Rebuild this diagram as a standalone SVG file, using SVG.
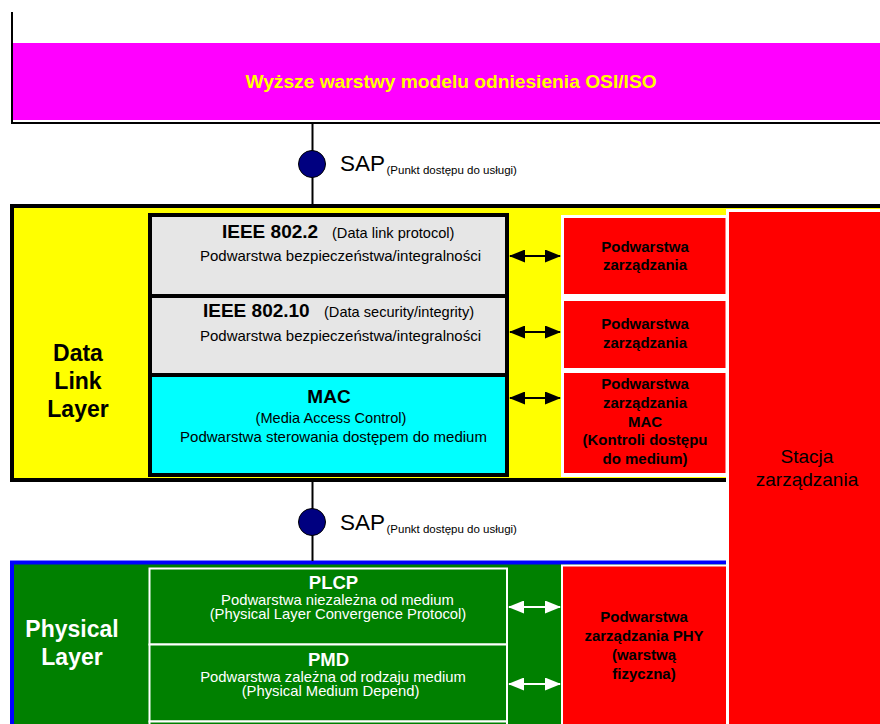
<svg xmlns="http://www.w3.org/2000/svg" width="880" height="724" viewBox="0 0 880 724">
  <style>
    text { font-family: "Liberation Sans", Arial, sans-serif; }
    .b { font-weight: bold; }
    .mid { text-anchor: middle; }
    .sap-big { font-size: 22.5px; fill: #000; }
    .sap-small { font-size: 11.5px; fill: #000; }
    .head { font-size: 19px; font-weight: bold; }
    .head-s { font-size: 18.5px; font-weight: bold; }
    .sub { font-size: 15px; }
    .sub-s { font-size: 14.8px; }
    .par { font-size: 14.6px; }
    .layer { font-size: 23px; font-weight: bold; }
    .mgmt { font-size: 15px; font-weight: bold; fill: #000; }
    .gray { fill: #e6e6e6; stroke: #000; stroke-width: 4; }
    .green-box { fill: #008000; stroke: #fff; stroke-width: 2; }
    .red { fill: #ff0000; }
    .wt { fill: #fff; }
    .arrow-k { stroke: #000; stroke-width: 2; marker-start: url(#ahk); marker-end: url(#ahk); }
    .arrow-w { stroke: #fff; stroke-width: 2; marker-start: url(#ahw); marker-end: url(#ahw); }
  </style>
  <defs>
    <marker id="ahk" viewBox="0 0 16 13" refX="15" refY="6.5" markerWidth="16" markerHeight="13" markerUnits="userSpaceOnUse" orient="auto-start-reverse">
      <path d="M0,0 L16,6.5 L0,13 Z" fill="#000"/>
    </marker>
    <marker id="ahw" viewBox="0 0 16 13" refX="15" refY="6.5" markerWidth="16" markerHeight="13" markerUnits="userSpaceOnUse" orient="auto-start-reverse">
      <path d="M0,0 L16,6.5 L0,13 Z" fill="#fff"/>
    </marker>
  </defs>

  <rect width="880" height="724" fill="#fff"/>

  <!-- upper OSI layers -->
  <g id="upper-layers">
    <rect x="13" y="43" width="867" height="77" fill="#ff00ff"/>
    <path d="M12,12 V123 H880" fill="none" stroke="#000" stroke-width="2"/>
    <text x="451" y="88" class="mid b" font-size="19.2" fill="#ffff00">Wyższe warstwy modelu odniesienia OSI/ISO</text>
  </g>

  <!-- data link layer frame -->
  <g id="data-link-layer">
    <rect x="12" y="206" width="900" height="274" fill="#ffff00" stroke="#000" stroke-width="4"/>
    <text class="layer mid" fill="#000"><tspan x="78" y="361">Data</tspan><tspan x="78" y="389">Link</tspan><tspan x="78" y="417">Layer</tspan></text>
  </g>

  <g id="ieee-802-2">
    <rect x="150" y="215" width="357" height="81" class="gray"/>
    <text y="238" fill="#000"><tspan x="222" class="head">IEEE 802.2</tspan><tspan x="332" class="par">(Data link protocol)</tspan></text>
    <text x="200" y="261" class="sub" fill="#000">Podwarstwa bezpieczeństwa/integralności</text>
  </g>

  <g id="ieee-802-10">
    <rect x="150" y="296" width="357" height="79" class="gray"/>
    <text y="317" fill="#000"><tspan x="203" class="head">IEEE 802.10</tspan><tspan x="324" class="par">(Data security/integrity)</tspan></text>
    <text x="200" y="341" class="sub" fill="#000">Podwarstwa bezpieczeństwa/integralności</text>
  </g>

  <g id="mac">
    <rect x="150" y="375" width="357" height="100" fill="#00ffff" stroke="#000" stroke-width="4"/>
    <text x="329" y="403" class="head mid" fill="#000">MAC</text>
    <text x="331" y="423" class="par mid" fill="#000">(Media Access Control)</text>
    <text x="333.5" y="442" class="sub mid" fill="#000">Podwarstwa sterowania dostępem do medium</text>
  </g>

  <!-- management sublayers of the data link layer -->
  <g id="dl-management">
    <rect x="561" y="215" width="167" height="262" class="wt"/>
    <rect x="564" y="218" width="161.5" height="76" class="red"/>
    <rect x="564" y="301" width="161.5" height="67" class="red"/>
    <rect x="564" y="373" width="161.5" height="100" class="red"/>
    <text class="mgmt mid"><tspan x="645" y="252">Podwarstwa</tspan><tspan x="645" y="270">zarządzania</tspan></text>
    <text class="mgmt mid"><tspan x="645" y="329">Podwarstwa</tspan><tspan x="645" y="348">zarządzania</tspan></text>
    <text class="mgmt mid"><tspan x="645" y="389">Podwarstwa</tspan><tspan x="645" y="407.5">zarządzania</tspan><tspan x="645" y="426.5">MAC</tspan><tspan x="645" y="445">(Kontroli dostępu</tspan><tspan x="645" y="463.5">do medium)</tspan></text>
  </g>

  <!-- physical layer frame -->
  <g id="physical-layer">
    <rect x="12" y="562.5" width="900" height="200" fill="#008000" stroke="#0000ff" stroke-width="4"/>
    <text class="layer mid" fill="#fff"><tspan x="72" y="637">Physical</tspan><tspan x="72" y="665">Layer</tspan></text>
  </g>

  <g id="plcp">
    <rect x="149.5" y="568.5" width="357.5" height="76" class="green-box"/>
    <text x="333.5" y="589" class="head-s mid" fill="#fff">PLCP</text>
    <text x="337.5" y="604.5" class="sub-s mid" fill="#fff">Podwarstwa niezależna od medium</text>
    <text x="338" y="619" class="sub-s mid" fill="#fff">(Physical Layer Convergence Protocol)</text>
  </g>

  <g id="pmd">
    <rect x="149.5" y="644.5" width="357.5" height="77" class="green-box"/>
    <text x="328.5" y="666" class="head-s mid" fill="#fff">PMD</text>
    <text x="333" y="681.5" class="sub-s mid" fill="#fff">Podwarstwa zależna od rodzaju medium</text>
    <text x="330.5" y="696" class="sub-s mid" fill="#fff">(Physical Medium Depend)</text>
  </g>

  <g id="phy-lower">
    <rect x="149.5" y="721.5" width="357.5" height="30" class="green-box"/>
  </g>

  <g id="phy-management">
    <rect x="562" y="565.5" width="165" height="200" class="red" stroke="#fff" stroke-width="2"/>
    <text class="mgmt mid"><tspan x="644" y="622">Podwarstwa</tspan><tspan x="644" y="641">zarządzania PHY</tspan><tspan x="644" y="660">(warstwą</tspan><tspan x="644" y="678.5">fizyczna)</tspan></text>
  </g>

  <!-- management station -->
  <g id="management-station">
    <rect x="727.5" y="210.5" width="170" height="530" class="red" stroke="#fff" stroke-width="3"/>
    <text class="mid" font-size="19" fill="#000"><tspan x="807" y="463">Stacja</tspan><tspan x="807" y="486">zarządzania</tspan></text>
  </g>

  <!-- service access points and sublayer links -->
  <g id="connectors">
    <line x1="312.5" y1="124" x2="312.5" y2="204" stroke="#000" stroke-width="2"/>
    <circle cx="312" cy="164" r="13.5" fill="#000080" stroke="#000" stroke-width="1"/>
    <text y="171"><tspan x="340" class="sap-big">SAP</tspan><tspan x="386.5" y="174" class="sap-small">(Punkt dostępu do usługi)</tspan></text>

    <line x1="312.5" y1="482" x2="312.5" y2="561" stroke="#000" stroke-width="2"/>
    <circle cx="312" cy="522" r="13.5" fill="#000080" stroke="#000" stroke-width="1"/>
    <text y="529.5"><tspan x="340" class="sap-big">SAP</tspan><tspan x="386.5" y="532.5" class="sap-small">(Punkt dostępu do usługi)</tspan></text>

    <line x1="510" y1="256" x2="560" y2="256" class="arrow-k"/>
    <line x1="510" y1="332" x2="560" y2="332" class="arrow-k"/>
    <line x1="510" y1="398" x2="560" y2="398" class="arrow-k"/>
    <line x1="509" y1="607" x2="560" y2="607" class="arrow-w"/>
    <line x1="509" y1="684" x2="560" y2="684" class="arrow-w"/>
  </g>
</svg>
